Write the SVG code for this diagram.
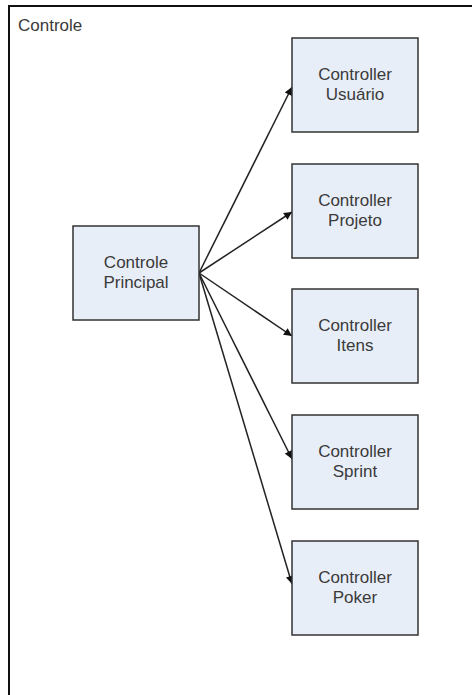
<svg xmlns="http://www.w3.org/2000/svg" width="472" height="695" viewBox="0 0 472 695">
<style>
.box{fill:#E8EEF8;stroke:#333;stroke-width:1.5}
.t{font-family:"Liberation Sans",Arial,sans-serif;font-size:17px;fill:#3a3a3a;text-anchor:middle}
.conn{stroke:#222;stroke-width:1.5;fill:none;marker-end:url(#ah)}
</style>
<defs>
<marker id="ah" viewBox="0 0 10 10" refX="10" refY="5" markerWidth="9" markerHeight="8" markerUnits="userSpaceOnUse" orient="auto">
<path d="M0,0 L10,5 L0,10 z" fill="#111"/>
</marker>
</defs>
<g id="frame">
<rect x="9" y="6" width="480" height="700" fill="#fff" stroke="#111" stroke-width="2"/>
<text x="18" y="31" class="t" style="text-anchor:start">Controle</text>
</g>
<g id="connectors">
<line class="conn" x1="199" y1="273" x2="292" y2="87"/>
<line class="conn" x1="199" y1="273" x2="292" y2="212"/>
<line class="conn" x1="199" y1="273" x2="292" y2="336"/>
<line class="conn" x1="199" y1="273" x2="292" y2="459"/>
<line class="conn" x1="199" y1="273" x2="292" y2="584"/>
</g>
<g id="principal">
<rect class="box" x="73" y="226" width="126" height="94"/>
<text class="t" x="136" y="268">Controle</text>
<text class="t" x="136" y="288">Principal</text>
</g>
<g id="usuario">
<rect class="box" x="292" y="38" width="126" height="94"/>
<text class="t" x="355" y="80">Controller</text>
<text class="t" x="355" y="100">Usuário</text>
</g>
<g id="projeto">
<rect class="box" x="292" y="164" width="126" height="94"/>
<text class="t" x="355" y="206">Controller</text>
<text class="t" x="355" y="226">Projeto</text>
</g>
<g id="itens">
<rect class="box" x="292" y="289" width="126" height="94"/>
<text class="t" x="355" y="331">Controller</text>
<text class="t" x="355" y="351">Itens</text>
</g>
<g id="sprint">
<rect class="box" x="292" y="415" width="126" height="94"/>
<text class="t" x="355" y="457">Controller</text>
<text class="t" x="355" y="477">Sprint</text>
</g>
<g id="poker">
<rect class="box" x="292" y="541" width="126" height="94"/>
<text class="t" x="355" y="583">Controller</text>
<text class="t" x="355" y="603">Poker</text>
</g>
</svg>
